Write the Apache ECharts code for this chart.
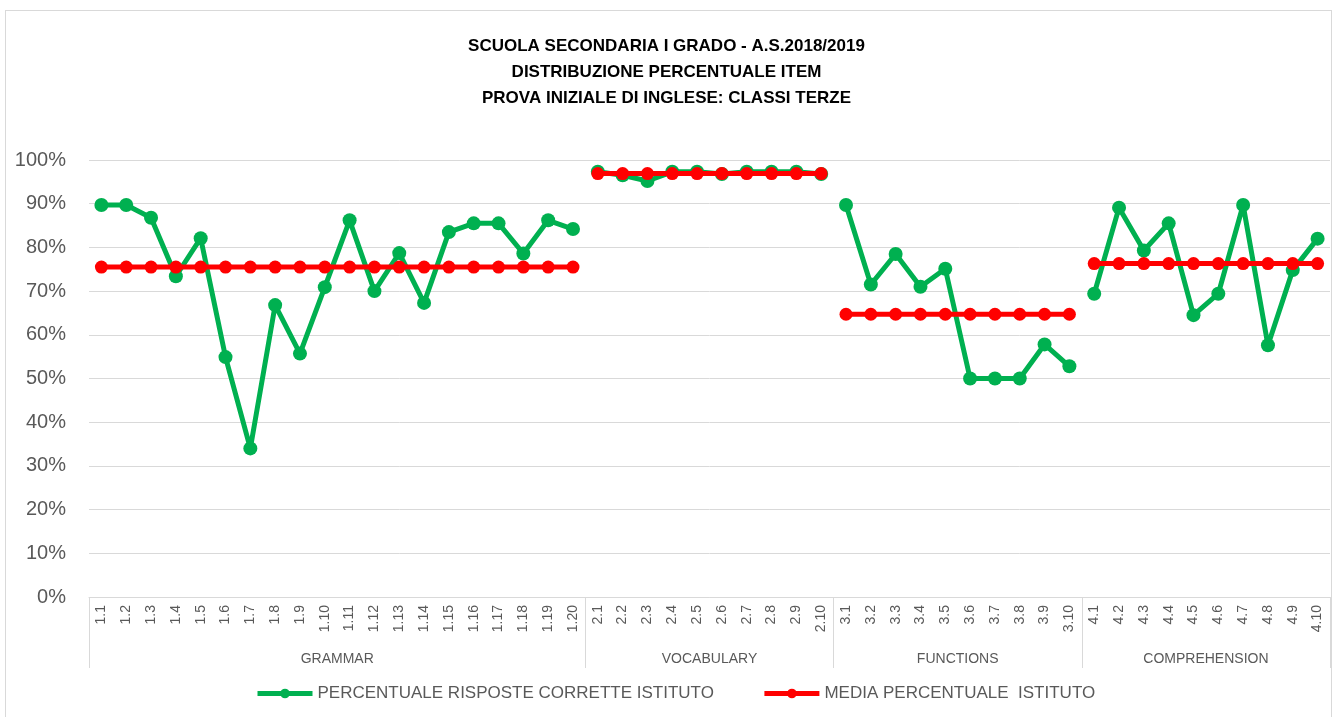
<!DOCTYPE html>
<html>
<head>
<meta charset="utf-8">
<script src="https://cdn.jsdelivr.net/npm/echarts@6/dist/echarts.min.js"></script>
<style>
    body { margin: 0; background: #fff; }
    #frame { position: absolute; left: 5px; top: 10px; width: 1325px; height: 710px; border: 1px solid #d9d9d9; }
    #chart { position: absolute; left: 0; top: 0; width: 1333px; height: 717px; }
</style>
</head>
<body>
<div id="frame"></div>
<div id="chart"></div>
<script>
// groups of items, in order
var groupNames = ['GRAMMAR', 'VOCABULARY', 'FUNCTIONS', 'COMPREHENSION']
var groupCounts = [20, 10, 10, 10]

// percent of correct answers, per item
var grammar = [89.7, 89.7, 86.8, 73.4, 82.1, 54.9, 34.0, 66.8, 55.7, 70.9, 86.2, 70.0, 78.7, 67.3, 83.5, 85.5, 85.5, 78.6, 86.2, 84.2]
var vocabulary = [97.3, 96.5, 95.2, 97.3, 97.3, 96.8, 97.3, 97.3, 97.3, 96.8]
var functions = [89.7, 71.5, 78.5, 71.0, 75.1, 50.0, 50.0, 50.0, 57.8, 52.8]
var comprehension = [69.4, 89.1, 79.3, 85.5, 64.5, 69.4, 89.7, 57.6, 74.8, 82.0]

// mean percent, per group
var groupMeans = [75.5, 96.9, 64.7, 76.3]

var yTicks = [0, 10, 20, 30, 40, 50, 60, 70, 80, 90, 100]

var seriesNames = ['PERCENTUALE RISPOSTE CORRETTE ISTITUTO', 'MEDIA PERCENTUALE  ISTITUTO']

var groupValues = [grammar, vocabulary, functions, comprehension]

// item labels like 1.1 ... 4.10
var categories = []
groupCounts.forEach(function (count, g) {
    for (var i = 1; i <= count; i++) categories.push((g + 1) + '.' + i)
})

// start index of every group
var groupStarts = []
var total = 0
groupCounts.forEach(function (count) {
    groupStarts.push(total)
    total += count
})

// one series per group so the lines break between groups
function padded(g, values) {
    var out = categories.map(function () { return '-' })
    values.forEach(function (v, i) { out[groupStarts[g] + i] = v })
    return out
}

var series = []
groupValues.forEach(function (values, g) {
    series.push({
        name: seriesNames[0],
        type: 'line',
        data: padded(g, values),
        symbol: 'circle',
        symbolSize: 14,
        lineStyle: { width: 5, color: '#00B050' },
        itemStyle: { color: '#00B050' },
        z: 2
    })
})
groupMeans.forEach(function (mean, g) {
    var values = []
    for (var i = 0; i < groupCounts[g]; i++) values.push(mean)
    series.push({
        name: seriesNames[1],
        type: 'line',
        data: padded(g, values),
        symbol: 'circle',
        symbolSize: 13,
        lineStyle: { width: 5, color: '#FF0000' },
        itemStyle: { color: '#FF0000' },
        z: 3
    })
})

var fontMain = '"Liberation Sans", Arial, sans-serif'

var chart = echarts.init(document.getElementById('chart'))
chart.setOption({
    animation: false,
    title: {
        text: 'SCUOLA SECONDARIA I GRADO - A.S.2018/2019\nDISTRIBUZIONE PERCENTUALE ITEM\nPROVA INIZIALE DI INGLESE: CLASSI TERZE',
        left: 'center',
        top: 28,
        textStyle: {
            fontFamily: fontMain,
            fontWeight: 'bold',
            fontSize: 17,
            lineHeight: 26,
            color: '#000'
        }
    },
    legend: {
        data: seriesNames,
        left: 250,
        top: 680,
        itemWidth: 55,
        itemHeight: 12,
        itemGap: 48,
        lineStyle: { width: 5 },
        textStyle: { fontFamily: fontMain, fontSize: 17, color: '#595959' }
    },
    grid: { left: 89, right: 3, top: 160, bottom: 120 },
    xAxis: [
        {
            type: 'category',
            data: categories,
            boundaryGap: true,
            axisLine: { lineStyle: { color: '#d9d9d9' } },
            axisTick: {
                show: true,
                length: 71,
                lineStyle: { color: '#d9d9d9' },
                interval: function (index) { return groupStarts.indexOf(index) >= 0 }
            },
            axisLabel: {
                interval: 0,
                rotate: 90,
                margin: 8,
                fontFamily: fontMain,
                fontSize: 14,
                color: '#595959'
            }
        },
        {
            // group names centred under their items
            type: 'value',
            position: 'bottom',
            min: 0,
            max: total,
            interval: 5,
            axisLine: { show: false },
            axisTick: { show: false },
            splitLine: { show: false },
            axisLabel: {
                margin: 55,
                fontFamily: fontMain,
                fontSize: 14,
                color: '#595959',
                formatter: function (v) {
                    for (var g = 0; g < groupNames.length; g++) {
                        if (groupStarts[g] + groupCounts[g] / 2 === v) return groupNames[g]
                    }
                    return ''
                }
            }
        }
    ],
    yAxis: {
        type: 'value',
        min: yTicks[0],
        max: yTicks[yTicks.length - 1],
        interval: yTicks[1] - yTicks[0],
        axisLine: { show: false },
        axisTick: { show: false },
        splitLine: { lineStyle: { color: '#d9d9d9', width: 1 } },
        axisLabel: {
            margin: 23,
            fontFamily: fontMain,
            fontSize: 20,
            color: '#595959',
            formatter: '{value}%'
        }
    },
    series: series
})
</script>
</body>
</html>
